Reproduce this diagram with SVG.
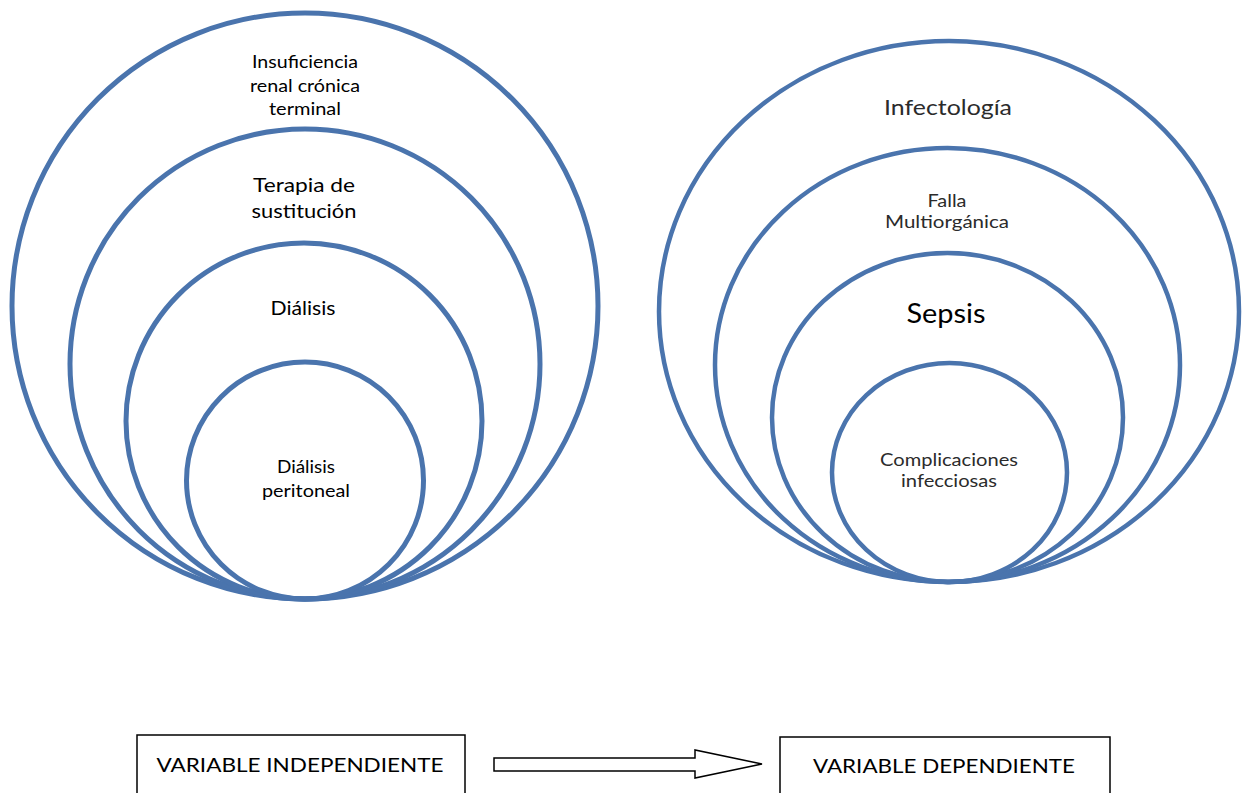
<svg xmlns="http://www.w3.org/2000/svg" width="1244" height="793" viewBox="0 0 1244 793">
<style>
.ring{fill:none;stroke:#4A74AD;stroke-width:5}
.ringR{fill:none;stroke:#4A74AD;stroke-width:4.5}
.t{font-family:Lato,"Liberation Sans",sans-serif;fill:#000;text-anchor:middle}
.tr{font-family:Lato,"Liberation Sans",sans-serif;fill:#2b2b2b;text-anchor:middle}
.box{fill:#fff;stroke:#000;stroke-width:1.5}
</style>
<rect width="1244" height="793" fill="#fff"/>
<g id="left-set">
  <g id="irct"><circle class="ring" cx="305" cy="306" r="293"/>
    <text class="t" font-size="18"><tspan x="305" y="68" textLength="106" lengthAdjust="spacingAndGlyphs">Insuficiencia</tspan><tspan x="305" y="92" textLength="110" lengthAdjust="spacingAndGlyphs">renal crónica</tspan><tspan x="305" y="115" textLength="72" lengthAdjust="spacingAndGlyphs">terminal</tspan></text></g>
  <g id="terapia"><circle class="ring" cx="305" cy="364" r="235"/>
    <text class="t" font-size="20"><tspan x="304" y="192" textLength="102" lengthAdjust="spacingAndGlyphs">Terapia de</tspan><tspan x="304" y="218" textLength="105" lengthAdjust="spacingAndGlyphs">sustitución</tspan></text></g>
  <g id="dialisis"><circle class="ring" cx="304" cy="421" r="178"/>
    <text class="t" font-size="20" x="303" y="315" textLength="65" lengthAdjust="spacingAndGlyphs">Diálisis</text></g>
  <g id="dp"><circle class="ring" cx="305" cy="480.5" r="118.5"/>
    <text class="t" font-size="18"><tspan x="306" y="473" textLength="58" lengthAdjust="spacingAndGlyphs">Diálisis</tspan><tspan x="306" y="497" textLength="88" lengthAdjust="spacingAndGlyphs">peritoneal</tspan></text></g>
</g>
<g id="right-set">
  <g id="infectologia"><ellipse class="ringR" cx="949" cy="311.5" rx="290" ry="270.5"/>
    <text class="tr" font-size="22" x="948" y="115" textLength="128" lengthAdjust="spacingAndGlyphs">Infectología</text></g>
  <g id="falla"><ellipse class="ringR" cx="947.5" cy="365" rx="232.5" ry="217"/>
    <text class="tr" font-size="17"><tspan x="947" y="207" textLength="39" lengthAdjust="spacingAndGlyphs">Falla</tspan><tspan x="947" y="228" textLength="124" lengthAdjust="spacingAndGlyphs">Multiorgánica</tspan></text></g>
  <g id="sepsis"><ellipse class="ringR" cx="947.5" cy="417.5" rx="175.5" ry="164.5"/>
    <text class="t" font-size="27" x="946" y="323" textLength="79" lengthAdjust="spacingAndGlyphs">Sepsis</text></g>
  <g id="complicaciones"><ellipse class="ringR" cx="949.5" cy="472.5" rx="117.5" ry="109.5"/>
    <text class="tr" font-size="17"><tspan x="949" y="466" textLength="138" lengthAdjust="spacingAndGlyphs">Complicaciones</tspan><tspan x="949" y="487" textLength="96" lengthAdjust="spacingAndGlyphs">infecciosas</tspan></text></g>
</g>
<g id="var-indep"><rect class="box" x="137" y="735" width="328" height="70"/>
  <text class="t" font-size="20" x="300" y="772" textLength="287" lengthAdjust="spacingAndGlyphs">VARIABLE INDEPENDIENTE</text></g>
<g id="var-dep"><rect class="box" x="780" y="737" width="330" height="70"/>
  <text class="t" font-size="20" x="944" y="773" textLength="262" lengthAdjust="spacingAndGlyphs">VARIABLE DEPENDIENTE</text></g>
<g id="connectors">
  <polygon points="494,758 695,758 695,750 762,764 695,778 695,771 494,771" fill="#fff" stroke="#000" stroke-width="1.5" stroke-linejoin="miter"/>
</g>
</svg>
